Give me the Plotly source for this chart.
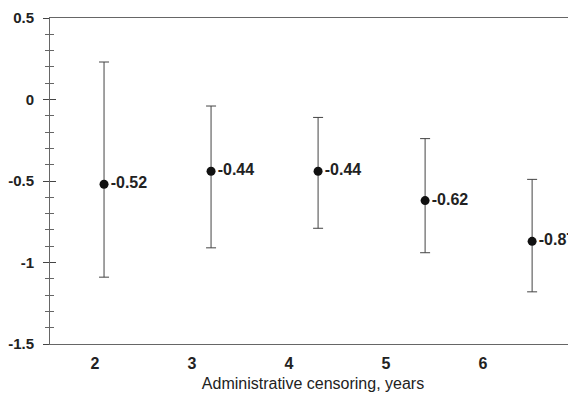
import plotly.graph_objects as go

years = [2, 3, 4, 5, 6]
estimates = [-0.52, -0.44, -0.44, -0.62, -0.87]
upper = [0.23, -0.04, -0.11, -0.24, -0.49]
lower = [-1.09, -0.91, -0.79, -0.94, -1.18]
labels = ["-0.52", "-0.44", "-0.44", "-0.62", "-0.87"]
x_tick_labels = ["2", "3", "4", "5", "6"]
y_ticks = [-1.5, -1, -0.5, 0, 0.5]
y_tick_text = ["-1.5", "-1", "-0.5", "0", "0.5"]

err_plus = [u - e for u, e in zip(upper, estimates)]
err_minus = [e - l for e, l in zip(estimates, lower)]

font = "Liberation Sans, Arial, sans-serif"

fig = go.Figure()
fig.add_trace(go.Scatter(
    x=years, y=estimates, mode="markers+text",
    text=labels, textposition="middle right",
    textfont=dict(family=font, size=16, color="#222", weight="bold"),
    marker=dict(color="#111", size=9),
    error_y=dict(type="data", symmetric=False, array=err_plus, arrayminus=err_minus,
                 color="#444", thickness=1, width=5),
    cliponaxis=False, showlegend=False,
))
# invisible trace to activate the label axis
fig.add_trace(go.Scatter(x=years, y=estimates, xaxis="x2", yaxis="y2",
                         mode="markers", marker=dict(opacity=0), showlegend=False,
                         hoverinfo="skip"))

fig.update_layout(
    width=568, height=392,
    margin=dict(l=42, r=0, t=10, b=56),
    plot_bgcolor="white", paper_bgcolor="white",
    font=dict(family=font, color="#222"),
    xaxis=dict(range=[1.495, 6.41], showticklabels=False, ticks="", showgrid=False,
               zeroline=False, showline=True, linecolor="#666", linewidth=1, mirror=True,
               automargin=False),
    xaxis2=dict(overlaying="x", side="bottom", range=[1.536, 6.96],
                tickvals=years, ticktext=x_tick_labels, ticks="", showgrid=False,
                zeroline=False, showline=False, automargin=False,
                tickfont=dict(family=font, size=16, color="#222", weight="bold"),
                ticklabelstandoff=8,
                title=dict(text="Administrative censoring, years",
                           font=dict(family=font, size=16, color="#222"), standoff=6)),
    yaxis=dict(range=[-1.5, 0.5], tickvals=y_ticks, ticktext=y_tick_text,
               ticks="outside", ticklen=6, tickcolor="#444", tickwidth=1,
               minor=dict(dtick=0.1, ticks="outside", ticklen=4, tickcolor="#666", showgrid=False),
               showgrid=False, zeroline=False, showline=True, linecolor="#666", linewidth=1,
               tickfont=dict(family=font, size=15, color="#222", weight="bold"),
               ticklabelstandoff=6, automargin=False),
    yaxis2=dict(overlaying="y", range=[-1.5, 0.5], tickvals=y_ticks, showticklabels=False,
                ticks="inside", ticklen=6, tickcolor="#444", tickwidth=1,
                minor=dict(dtick=0.1, ticks="inside", ticklen=4, tickcolor="#666", showgrid=False),
                showgrid=False, zeroline=False, showline=False, automargin=False),
)

fig.write_html("out.html")
